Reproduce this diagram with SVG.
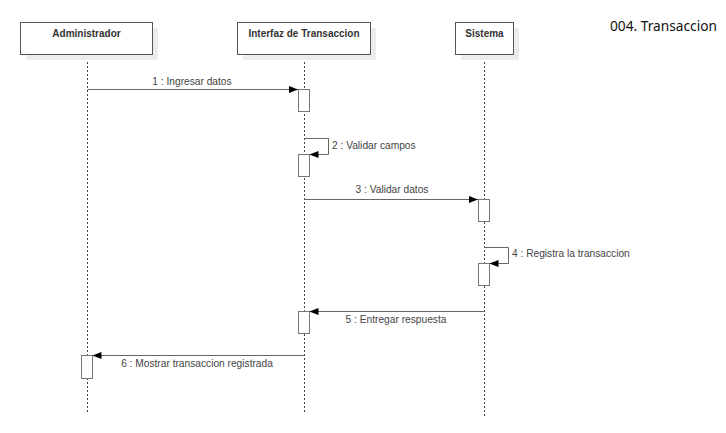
<svg xmlns="http://www.w3.org/2000/svg" width="726" height="433" viewBox="0 0 726 433">
<style>
.box{fill:#fff;stroke:#555;stroke-width:1}
.shadow{fill:#ececec}
.hdr{font-family:"Liberation Sans",Arial,sans-serif;font-size:10px;font-weight:bold;fill:#333;text-anchor:middle}
.life{stroke:#444;stroke-width:1;stroke-dasharray:2,2;fill:none}
.act{fill:#fff;stroke:#777;stroke-width:1}
.msg{stroke:#666;stroke-width:1;fill:none}
.lbl{font-family:"Liberation Sans",Arial,sans-serif;font-size:10.2px;fill:#444}
.title{font-family:"Noto Sans","Open Sans",sans-serif;font-size:14px;fill:#111}
</style>
<defs>
<marker id="ah" markerWidth="9" markerHeight="7" refX="9" refY="3.5" orient="auto" markerUnits="userSpaceOnUse">
<path d="M0,0 L9,3.5 L0,7 Z" fill="#000"/>
</marker>
</defs>
<rect width="726" height="433" fill="#fff"/>
<text class="title" x="610" y="31" textLength="107" lengthAdjust="spacingAndGlyphs">004. Transaccion</text>

<g id="lifelines">
<line class="life" x1="87.5" y1="54" x2="87.5" y2="412" stroke="#888"/>
<line class="life" x1="304.5" y1="54" x2="304.5" y2="412"/>
<line class="life" x1="484.5" y1="54" x2="484.5" y2="417"/>
</g>

<g id="administrador">
<rect class="shadow" x="26" y="28" width="132" height="32"/>
<rect class="box" x="20.5" y="22.5" width="132" height="32"/>
<text class="hdr" x="86.5" y="37">Administrador</text>
</g>
<g id="interfaz">
<rect class="shadow" x="243" y="28" width="133" height="32"/>
<rect class="box" x="237.5" y="22.5" width="133" height="32"/>
<text class="hdr" x="304" y="37">Interfaz de Transaccion</text>
</g>
<g id="sistema">
<rect class="shadow" x="461" y="28" width="58" height="32"/>
<rect class="box" x="455.5" y="22.5" width="58" height="32"/>
<text class="hdr" x="484.5" y="37">Sistema</text>
</g>

<g id="activations">
<rect class="act" x="298.5" y="89.5" width="11" height="22"/>
<rect class="act" x="298.5" y="154.5" width="11" height="22"/>
<rect class="act" x="478.5" y="199.5" width="11" height="22"/>
<rect class="act" x="478.5" y="263.5" width="11" height="22"/>
<rect class="act" x="298.5" y="311.5" width="11" height="22"/>
<rect class="act" x="81.5" y="355.5" width="11" height="23"/>
</g>

<g id="connectors">
<line class="msg" x1="87.5" y1="89.5" x2="298" y2="89.5" stroke="#222" marker-end="url(#ah)"/>
<text class="lbl" x="192" y="85" text-anchor="middle">1 : Ingresar datos</text>

<polyline class="msg" points="304.5,138.5 328.5,138.5 328.5,154.5 309.5,154.5" marker-end="url(#ah)"/>
<text class="lbl" x="332" y="149">2 : Validar campos</text>

<line class="msg" x1="304.5" y1="199.5" x2="478" y2="199.5" marker-end="url(#ah)"/>
<text class="lbl" x="392" y="193" text-anchor="middle">3 : Validar datos</text>

<polyline class="msg" points="484.5,247.5 508.5,247.5 508.5,263.5 489.5,263.5" marker-end="url(#ah)"/>
<text class="lbl" x="512" y="257">4 : Registra la transaccion</text>

<line class="msg" x1="484.5" y1="311.5" x2="309.5" y2="311.5" marker-end="url(#ah)"/>
<text class="lbl" x="396" y="323" text-anchor="middle">5 : Entregar respuesta</text>

<line class="msg" x1="304.5" y1="355.5" x2="92.5" y2="355.5" marker-end="url(#ah)"/>
<text class="lbl" x="197" y="367" text-anchor="middle">6 : Mostrar transaccion registrada</text>
</g>
</svg>
